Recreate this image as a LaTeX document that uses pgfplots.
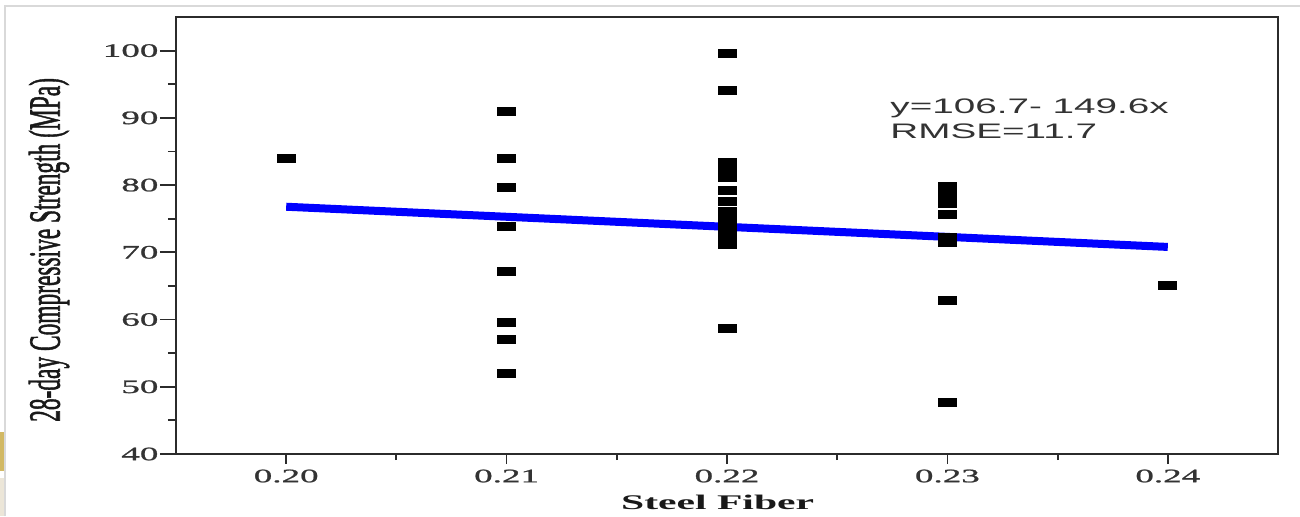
\documentclass[border=0pt]{standalone}
\usepackage{pgfplots}
\pgfplotsset{compat=1.18}
\usepackage{fontspec}
\setmainfont{Liberation Serif}
\newfontfamily\tickfont{Liberation Serif}[FakeStretch=1.95, FakeBold=1.2]
\newfontfamily\labfont{Liberation Serif}[FakeStretch=2.0]
\newfontfamily\ylabfont{Liberation Serif}[FakeBold=1.6]
\newfontfamily\annfont{Liberation Sans}[FakeStretch=1.84]
\definecolor{axisgray}{HTML}{2B2B2B}
\definecolor{fitblue}{RGB}{0,0,255}
\definecolor{goldbox}{HTML}{D2B964}
\definecolor{beige}{HTML}{ECE6D8}

\pgfplotstableread{
x y
0.20 84.0
0.21 91.0
0.21 84.0
0.21 79.7
0.21 73.9
0.21 67.2
0.21 59.5
0.21 57.1
0.21 52.0
0.22 99.6
0.22 94.0
0.22 83.3
0.22 82.2
0.22 81.2
0.22 79.2
0.22 77.5
0.22 76.1
0.22 74.8
0.22 73.5
0.22 72.3
0.22 71.2
0.22 58.6
0.23 79.8
0.23 78.5
0.23 77.3
0.23 75.6
0.23 72.2
0.23 71.5
0.23 62.9
0.23 47.6
0.24 65.0
}\datatable

\begin{document}
\begin{tikzpicture}
\path[use as bounding box] (-88pt,-31pt) rectangle (562pt,227pt);
\fill[goldbox] (-88pt,-8.5pt) rectangle (-85.5pt,11pt);
\fill[beige] (-88pt,-31pt) rectangle (-85.5pt,-12pt);
\draw[gray!30, line width=0.8pt] (-85.5pt,-31pt) -- (-85.5pt,224pt) -- (562pt,224pt);
\begin{axis}[
  scale only axis,
  width=551pt, height=218.5pt,
  xmin=0.195, xmax=0.245,
  ymin=40, ymax=105,
  xtick={0.20,0.21,0.22,0.23,0.24},
  xticklabels={0.20,0.21,0.22,0.23,0.24},
  minor xtick={0.205,0.215,0.225,0.235},
  ytick={40,50,60,70,80,90,100},
  yticklabels={40,50,60,70,80,90,100},
  minor ytick={45,55,65,75,85,95},
  tick align=outside,
  xtick pos=bottom, ytick pos=left,
  xtick style={/pgfplots/major tick length=5pt, /pgfplots/minor tick length=3pt, axisgray, line width=0.9pt},
  ytick style={/pgfplots/major tick length=8pt, /pgfplots/minor tick length=4pt, axisgray, line width=0.9pt},
  axis line style={axisgray, line width=1pt},
  tick label style={font=\tickfont\fontsize{9.5}{11}\selectfont, text=black!80},
  yticklabel style={xshift=-1pt},
  xlabel={Steel Fiber},
  xlabel style={at={(axis description cs:0.4915,-0.1259)}, anchor=base,
    font=\labfont\bfseries\fontsize{10.4}{12}\selectfont, text=black!90},
  ylabel={\scalebox{1}[1.9]{28-day Compressive Strength (MPa)}},
  ylabel style={at={(axis description cs:-0.1152,0.467)}, anchor=center,
    font=\ylabfont\fontsize{11.7}{13}\selectfont, text=black!90},
  clip=false,
]
\addplot[only marks, mark=square*, mark size=2pt,
  mark options={xscale=2.25, fill=black, draw=black, line width=0pt}]
  table[x=x, y=y] {\datatable};
\addplot[fitblue, line width=4pt, no marks] coordinates {(0.20,76.78) (0.24,70.80)};
\node[anchor=base west, inner sep=0, font=\annfont\fontsize{10.5}{12}\selectfont, text=black!80]
  at (axis cs:0.2274,90.65) {y=106.7- 149.6x};
\node[anchor=base west, inner sep=0, font=\annfont\fontsize{10.5}{12}\selectfont, text=black!80]
  at (axis cs:0.2274,87.0) {RMSE=11.7};
\end{axis}
\end{tikzpicture}
\end{document}
